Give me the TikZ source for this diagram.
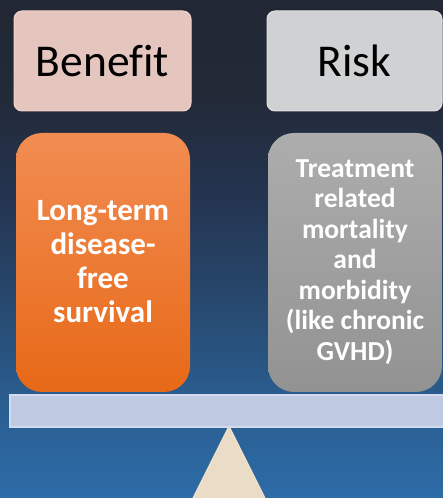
\documentclass[tikz,border=0pt]{standalone}
\usepackage{fontspec}
\setmainfont{Carlito}[Ligatures=NoCommon]
\definecolor{bgA}{HTML}{2D6CA8}
\definecolor{bgB}{HTML}{2A5D8F}
\definecolor{bgC}{HTML}{27486D}
\definecolor{bgD}{HTML}{243551}
\definecolor{bgE}{HTML}{222A38}
\definecolor{bgF}{HTML}{212733}
\definecolor{benefitfill}{HTML}{E5C6BE}
\definecolor{benefitline}{HTML}{F2D4CC}
\definecolor{riskfill}{HTML}{D0D1D3}
\definecolor{riskline}{HTML}{DFE0E2}
\definecolor{orangetop}{HTML}{F28C52}
\definecolor{orangebot}{HTML}{E76917}
\definecolor{graytop}{HTML}{ADADAD}
\definecolor{graybot}{HTML}{929292}
\definecolor{beamfill}{HTML}{BFC9E1}
\definecolor{beamline}{HTML}{D2DAEE}
\definecolor{pivotfill}{HTML}{EADCC7}
\definecolor{pivotline}{HTML}{F7E2C6}
% background: 25bp = bottom edge, 75bp = top edge of the filled path
\pgfdeclareverticalshading{backdrop}{100bp}{%
  color(0bp)=(bgA); color(25bp)=(bgA); color(35bp)=(bgB);
  color(45bp)=(bgC); color(55bp)=(bgD); color(65bp)=(bgE);
  color(75bp)=(bgF); color(100bp)=(bgF)}
\tikzset{
  headbox/.style={rounded corners=8pt, line width=1pt},
  itembox/.style={rounded corners=26pt},
  headtext/.style={font=\fontsize{45.5}{50}\selectfont, text=black},
  itemtext/.style={align=center, text=white, font=\bfseries},
}
\begin{document}
\begin{tikzpicture}[x=1pt,y=1pt]
  \useasboundingbox (0,0) rectangle (443,498);
  \clip (0,0) rectangle (443,498);
  \shade[shading=backdrop] (0,0) rectangle (443,498);

  % heading boxes
  \draw[headbox, fill=benefitfill, draw=benefitline] (14,487) rectangle (191,387);
  \node[headtext] (benefit) at (102.5,437) {Benefit};
  \draw[headbox, fill=riskfill, draw=riskline] (267,487) rectangle (442,387);
  \node[headtext] (risk) at (354.5,437) {Risk};

  % item boxes
  \shade[itembox, top color=orangetop, bottom color=orangebot] (16,365) rectangle (190,106);
  \node[itemtext, font=\bfseries\fontsize{31}{34}\selectfont] (gain) at (103,236)
    {Long-term\\disease-\\free\\survival};
  \shade[itembox, top color=graytop, bottom color=graybot] (268,365) rectangle (442,106);
  \node[itemtext, font=\bfseries\fontsize{27.5}{30.5}\selectfont] (cost) at (355,236)
    {Treatment\\related\\mortality\\and\\morbidity\\(like chronic\\GVHD)};

  % balance beam and pivot
  \draw[fill=pivotfill, draw=pivotline, line width=1pt, line join=miter]
    (229,72) -- (183,-20) -- (275,-20) -- cycle;
  \draw[fill=beamfill, draw=beamline, line width=1.5pt] (10,103) rectangle (452,71);
\end{tikzpicture}
\end{document}
